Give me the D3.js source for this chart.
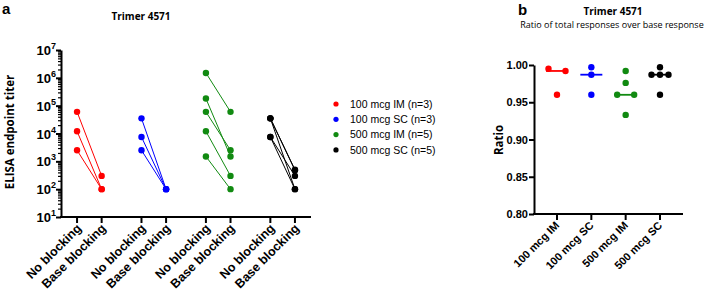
<!DOCTYPE html>
<html><head><meta charset="utf-8">
<script src="https://cdn.jsdelivr.net/npm/d3@7"></script>
<style>
body{margin:0;background:#fff;}
svg{display:block;font-family:"Liberation Sans",Arial,sans-serif;}
</style></head>
<body><svg id="c" width="708" height="294"></svg>
<script>
// ---------- data ----------
const groups = ["100 mcg IM (n=3)", "100 mcg SC (n=3)", "500 mcg IM (n=5)", "500 mcg SC (n=5)"];
const groupShort = ["100 mcg IM", "100 mcg SC", "500 mcg IM", "500 mcg SC"];
const conditions = ["No blocking", "Base blocking"];
const colors = ["#ff0000", "#0000ff", "#118a11", "#000000"];
// titers: pairs [no blocking, base blocking] per animal
const titerIM100 = [[60000, 300], [12000, 100], [2500, 100]];
const titerSC100 = [[35000, 100], [7500, 100], [2500, 100]];
const titerIM500 = [[1500000, 60000], [180000, 1500], [60000, 2500], [12000, 300], [1500, 100]];
const titerSC500 = [[35000, 500], [35000, 480], [35000, 100], [7500, 300], [7500, 100]];
const titers = [titerIM100, titerSC100, titerIM500, titerSC500];
const yTicksA = [1e1, 1e2, 1e3, 1e4, 1e5, 1e6, 1e7];
// ratios
const ratioIM100 = [0.995, 0.992, 0.960];
const ratioSC100 = [0.997, 0.987, 0.960];
const ratioIM500 = [0.992, 0.976, 0.960, 0.960, 0.933];
const ratioSC500 = [0.997, 0.987, 0.987, 0.987, 0.960];
const ratios = [ratioIM100, ratioSC100, ratioIM500, ratioSC500];
const yTicksB = [0.80, 0.85, 0.90, 0.95, 1.00];

const svg = d3.select("#c");
const bold = "bold";

// ---------- panel a ----------
const gA = svg.append("g");
const yA = d3.scaleLog().domain([10, 1e7]).range([217, 50]);
const xG = d3.scalePoint().domain(groups).range([61, 311]).padding(0.44);
const xC = d3.scalePoint().domain(conditions).range([-12.3, 12.3]);

gA.append("text").attr("x", 2).attr("y", 14).attr("font-size", 15).attr("font-weight", bold).text("a");
gA.append("text").attr("x", 141).attr("y", 20).attr("text-anchor", "middle")
  .attr("font-family", "'Open Sans',sans-serif").attr("font-size", 10).attr("font-weight", bold).text("Trimer 4571");
gA.append("text").attr("transform", "translate(14,132) rotate(-90)").attr("text-anchor", "middle")
  .attr("font-family", "'Open Sans',sans-serif").attr("font-size", 11.5).attr("font-weight", bold).text("ELISA endpoint titer");

// minor ticks
const minor = [];
for (let d = 1; d < 7; d++) for (let m = 2; m <= 9; m++) minor.push(m * Math.pow(10, d));
const axMinor = gA.append("g").attr("transform", "translate(61,0)")
  .call(d3.axisLeft(yA).tickValues(minor).tickSize(3).tickFormat(""));
axMinor.select(".domain").remove();
axMinor.selectAll("line").attr("stroke-width", 1.2);
const axA = gA.append("g").attr("transform", "translate(61,0)")
  .call(d3.axisLeft(yA).tickValues(yTicksA).tickSize(5).tickSizeOuter(0).tickFormat(""));
axA.select(".domain").attr("stroke-width", 2);
axA.selectAll("line").attr("stroke-width", 2);
yTicksA.forEach(v => {
  const t = gA.append("text").attr("x", 56).attr("y", yA(v) + 5).attr("text-anchor", "end")
    .attr("font-weight", bold).attr("font-size", 13);
  t.append("tspan").text("10");
  t.append("tspan").attr("dy", -6).attr("font-size", 9).text(Math.round(Math.log10(v)));
});
// x axis a
const xTicksA = [];
groups.forEach(g => conditions.forEach(c => xTicksA.push({g, c, x: xG(g) + xC(c)})));
gA.append("line").attr("x1", 60).attr("x2", 311).attr("y1", 217).attr("y2", 217)
  .attr("stroke", "#000").attr("stroke-width", 2);
gA.selectAll(".xt").data(xTicksA).join("line").attr("x1", d => d.x).attr("x2", d => d.x)
  .attr("y1", 217).attr("y2", 223).attr("stroke", "#000").attr("stroke-width", 2);
gA.selectAll(".xl").data(xTicksA).join("text")
  .attr("transform", d => `translate(${d.x + 5},${229}) rotate(-45)`)
  .attr("text-anchor", "end").attr("font-weight", bold).attr("font-size", 12.5).text(d => d.c);

// pairs
groups.forEach((g, gi) => {
  const x0 = xG(g) + xC(conditions[0]), x1 = xG(g) + xC(conditions[1]);
  const col = colors[gi];
  gA.selectAll(null).data(titers[gi]).join("line")
    .attr("x1", x0).attr("x2", x1).attr("y1", d => yA(d[0])).attr("y2", d => yA(d[1]))
    .attr("stroke", col).attr("stroke-width", 1);
  const pts = [];
  titers[gi].forEach(d => { pts.push([x0, d[0]]); pts.push([x1, d[1]]); });
  gA.selectAll(null).data(pts).join("circle")
    .attr("cx", d => d[0]).attr("cy", d => yA(d[1])).attr("r", 3.2).attr("fill", col);
});

// legend
groups.forEach((g, i) => {
  const y = 104 + i * 15.3;
  gA.append("circle").attr("cx", 336).attr("cy", y).attr("r", 2.6).attr("fill", colors[i]);
  gA.append("text").attr("x", 350).attr("y", y + 3.8).attr("font-size", 10.5).text(g);
});

// ---------- panel b ----------
const gB = svg.append("g");
const yB = d3.scaleLinear().domain([0.8, 1.0]).range([214, 65]);
const xB = d3.scalePoint().domain(groupShort).range([534, 683]).padding(0.67);

gB.append("text").attr("x", 518).attr("y", 15).attr("font-size", 15).attr("font-weight", bold).text("b");
gB.append("text").attr("x", 613).attr("y", 15).attr("text-anchor", "middle")
  .attr("font-family", "'Open Sans',sans-serif").attr("font-size", 10).attr("font-weight", bold).text("Trimer 4571");
gB.append("text").attr("x", 612).attr("y", 28).attr("text-anchor", "middle")
  .attr("font-family", "'Open Sans',sans-serif").attr("font-size", 9).text("Ratio of total responses over base response");
gB.append("text").attr("transform", "translate(503,140) rotate(-90)").attr("text-anchor", "middle")
  .attr("font-family", "'Open Sans',sans-serif").attr("font-size", 11.5).attr("font-weight", bold).text("Ratio");

const axB = gB.append("g").attr("transform", "translate(534,0)")
  .call(d3.axisLeft(yB).tickValues(yTicksB).tickSize(5).tickSizeOuter(0).tickFormat(d3.format(".2f")));
axB.select(".domain").attr("stroke-width", 2);
axB.selectAll("line").attr("stroke-width", 2);
axB.selectAll("text").attr("font-weight", bold).attr("font-size", 11)
  .attr("font-family", "'Liberation Sans',Arial,sans-serif").attr("x", -6);
gB.append("line").attr("x1", 533).attr("x2", 683).attr("y1", 214).attr("y2", 214)
  .attr("stroke", "#000").attr("stroke-width", 2);
gB.selectAll(".xt").data(groupShort).join("line").attr("x1", d => xB(d)).attr("x2", d => xB(d))
  .attr("y1", 214).attr("y2", 220).attr("stroke", "#000").attr("stroke-width", 2);
gB.selectAll(".xl").data(groupShort).join("text")
  .attr("transform", d => `translate(${xB(d) + 3},${226}) rotate(-45)`)
  .attr("text-anchor", "end").attr("font-weight", bold).attr("font-size", 11).text(d => d);

const dodge = 8.5;
groupShort.forEach((g, gi) => {
  const col = colors[gi];
  const vals = ratios[gi];
  const cx = xB(g);
  const med = d3.median(vals);
  gB.append("line").attr("x1", cx - 11).attr("x2", cx + 11).attr("y1", yB(med)).attr("y2", yB(med))
    .attr("stroke", col).attr("stroke-width", 1.8);
  // cluster values closer than 6px, spread horizontally
  const sorted = vals.slice().sort((a, b) => b - a);
  const clusters = [];
  sorted.forEach(v => {
    const last = clusters[clusters.length - 1];
    if (last && Math.abs(yB(last[last.length - 1]) - yB(v)) < 6) last.push(v);
    else clusters.push([v]);
  });
  clusters.forEach(cl => {
    cl.forEach((v, i) => {
      const off = (i - (cl.length - 1) / 2) * dodge * (cl.length === 2 ? 2 : 1);
      gB.append("circle").attr("cx", cx + off).attr("cy", yB(v)).attr("r", 3.2).attr("fill", col);
    });
  });
});
</script></body></html>
